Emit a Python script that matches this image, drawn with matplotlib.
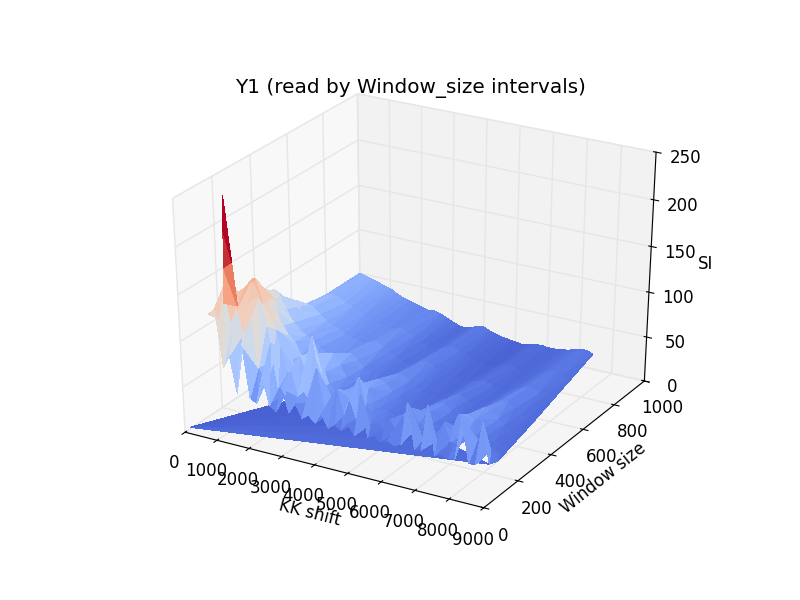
import numpy as np
import matplotlib
matplotlib.use("Agg")
import matplotlib.pyplot as plt
from mpl_toolkits.mplot3d import Axes3D

KK_STEP = 200
window_sizes = [150, 200, 250, 300, 400, 500, 650, 800, 1000]

# one row per window size, KK shift starts at 0 and goes up by KK_STEP.
# bigger windows have fewer shifts
si_150 = [110, 118, 55, 70, 30, 85, 28, 24, 55, 25, 20, 48, 22, 34, 20, 25, 18, 30, 16, 22, 17, 26, 15, 62, 16, 20, 15, 18, 15, 18, 66, 16, 17, 68, 15, 18, 15, 17, 62, 15, 16, 64, 20]
si_200 = [100, 135, 100, 115, 90, 125, 55, 40, 85, 38, 32, 60, 34, 42, 30, 70, 28, 26, 52, 26, 44, 24, 34, 22, 26, 20, 32, 20, 40, 22, 24, 20, 30, 22, 42, 24, 22, 38, 20, 34, 18, 26, 16]
si_250 = [95, 100, 125, 132, 142, 125, 95, 60, 75, 48, 42, 70, 52, 95, 40, 34, 30, 28, 44, 34, 62, 32, 28, 26, 24, 22, 20, 34, 42, 28, 24, 22, 22, 36, 28, 48, 30, 26, 24, 20, 18, 16]
si_300 = [90, 120, 115, 135, 110, 115, 85, 50, 62, 44, 40, 52, 68, 48, 38, 30, 25, 24, 34, 46, 42, 30, 25, 22, 20, 18, 18, 24, 32, 32, 23, 18, 18, 24, 32, 40, 36, 27, 22, 18, 16, 15]
si_400 = [90, 110, 95, 100, 72, 64, 58, 44, 40, 46, 36, 42, 55, 44, 32, 26, 23, 21, 27, 38, 36, 28, 23, 20, 18, 16, 16, 20, 27, 28, 21, 17, 16, 20, 27, 34, 33, 25, 20, 16, 15]
si_500 = [94, 88, 75, 62, 55, 50, 46, 40, 36, 38, 33, 38, 42, 36, 29, 24, 21, 19, 23, 30, 32, 26, 21, 18, 16, 15, 14, 17, 22, 24, 19, 15, 15, 18, 23, 28, 29, 23, 18, 15, 14]
si_650 = [53, 60, 58, 52, 46, 42, 40, 36, 33, 32, 30, 33, 35, 31, 26, 22, 19, 17, 19, 25, 26, 22, 19, 17, 15, 14, 13, 15, 18, 19, 16, 14, 14, 16, 19, 23, 24, 20, 17, 15]
si_800 = [50, 52, 50, 46, 43, 40, 37, 34, 31, 30, 28, 29, 31, 28, 24, 20, 17, 15, 17, 21, 23, 20, 17, 15, 13, 12, 11, 12, 15, 16, 15, 13, 14, 15, 17, 20, 22, 19, 16]
si_1000 = [50, 48, 46, 44, 42, 40, 36, 33, 31, 29, 27, 25, 26, 24, 21, 18, 15, 14, 16, 19, 20, 17, 15, 13, 12, 11, 10, 11, 13, 14, 13, 13, 14, 15, 17, 19, 20, 17]
si_rows = [si_150, si_200, si_250, si_300, si_400, si_500, si_650, si_800, si_1000]

# flat fan in front of the surface
floor_x = [100, 8400, 6875, 5350, 3825, 2300]
floor_y = [10, 150, 221, 292, 364, 435]
floor_si = [5, 20, 18, 15, 13, 11]

# the tall narrow peak near KK shift 300
peak_x = [300, 406, 492, 620, 283, 267, 250]
peak_y = [200, 200, 200, 200, 197, 193, 190]
peak_si = [232, 194, 164, 118, 195, 157, 119]
peak_tri = [[0, 1, 4], [1, 2, 4], [2, 4, 5], [2, 3, 5], [3, 5, 6]]

xs, ys, zs = [], [], []
for w, row in zip(window_sizes, si_rows):
    for i, si in enumerate(row):
        xs.append(i * KK_STEP)
        ys.append(w)
        zs.append(si)

fig = plt.figure(figsize=(8, 6), dpi=100)
ax = fig.add_axes([0.125, 0.1, 0.775, 0.8], projection="3d", computed_zorder=False)
ax.apply_aspect = lambda position=None: None  # old mplot3d filled the whole subplot
ax.set_box_aspect((1, 1, 1), zoom=0.935)
ax.view_init(elev=30, azim=-60)

ax.plot_trisurf(floor_x, floor_y, floor_si, cmap="coolwarm", vmin=0, vmax=195,
                linewidth=0, antialiased=False, zorder=1)
ax.plot_trisurf(xs, ys, zs, cmap="coolwarm", vmin=0, vmax=195,
                linewidth=0, antialiased=False, zorder=2)
ax.plot_trisurf(peak_x, peak_y, peak_si, triangles=peak_tri, cmap="coolwarm", vmin=0, vmax=180,
                linewidth=0, antialiased=False, zorder=3)

ax.set_xlim(0, 9000)
ax.set_ylim(0, 1000)
ax.set_zlim(0, 250)
ax.set_xticks(np.arange(0, 10000, 1000))
ax.set_yticks(np.arange(0, 1200, 200))
ax.set_zticks(np.arange(0, 300, 50))
ax.set_xlabel("KK shift", fontsize=12)
ax.set_ylabel("Window size", fontsize=12)
ax.set_zlabel("SI", fontsize=12)
ax.tick_params(labelsize=12, pad=5)
ax.set_title("Y1 (read by Window_size intervals)", fontsize=14.4, y=0.9925)

for axis, shade in ((ax.xaxis, 0.95), (ax.yaxis, 0.90), (ax.zaxis, 0.925)):
    axis.set_pane_color((shade, shade, shade, 0.5))
    axis._axinfo["grid"]["color"] = (0.9, 0.9, 0.9, 1)
    axis._axinfo["grid"]["linewidth"] = 1.0

plt.savefig("out.png", dpi=100)
